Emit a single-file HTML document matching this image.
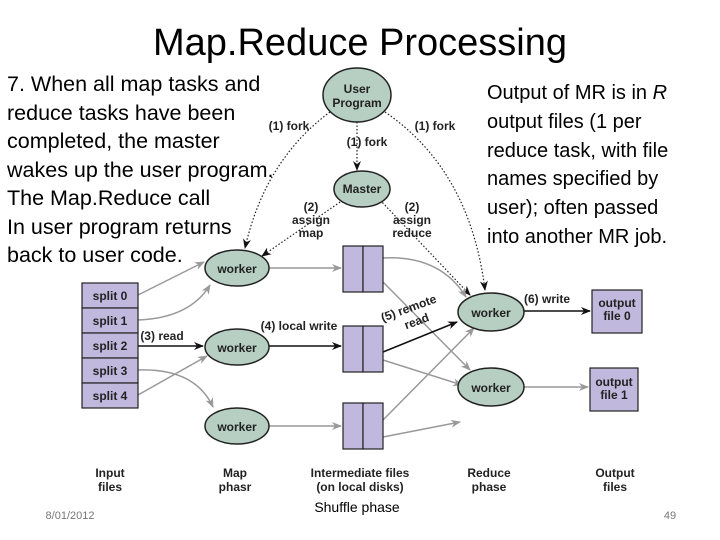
<!DOCTYPE html>
<html><head><meta charset="utf-8"><style>
body{margin:0;width:720px;height:540px;background:#fff;overflow:hidden;position:relative;font-family:"Liberation Sans",sans-serif}
.t{position:absolute;font-family:"Liberation Sans",sans-serif;color:#000}
</style></head><body>
<div class="t" style="left:0;width:720px;top:22px;text-align:center;font-size:38px">Map.Reduce Processing</div>
<div class="t" style="left:7px;top:70px;font-size:21.5px;line-height:28.5px;white-space:nowrap">7. When all map tasks and<br>reduce tasks have been<br>completed, the master<br>wakes up the user program.<br>The Map.Reduce call<br>In user program returns<br>back to user code.</div>
<div class="t" style="left:487px;top:79px;font-size:20px;line-height:28.8px;white-space:nowrap">Output of MR is in <i>R</i><br>output files (1 per<br>reduce task, with file<br>names specified by<br>user); often passed<br>into another MR job.</div>
<svg width="720" height="540" style="position:absolute;left:0;top:0" font-family="Liberation Sans Narrow, Liberation Sans, sans-serif">
<defs>
<marker id="g" markerWidth="10" markerHeight="8" refX="9" refY="4" orient="auto" markerUnits="userSpaceOnUse"><path d="M0,0L10,4L0,8L3,4z" fill="#999"/></marker>
<marker id="k" markerWidth="10" markerHeight="8" refX="9" refY="4" orient="auto" markerUnits="userSpaceOnUse"><path d="M0,0L10,4L0,8L3,4z" fill="#111"/></marker>
</defs>
<g fill="none" stroke="#222" stroke-width="1.2" stroke-dasharray="1.5,2">
<path d="M330,112 Q265,160 245,248" marker-end="url(#k)"/>
<path d="M357,122 L357,170" marker-end="url(#k)"/>
<path d="M385,112 Q470,170 485,290" marker-end="url(#k)"/>
<path d="M343,200 L262,256" marker-end="url(#k)"/>
<path d="M380,200 L470,295" marker-end="url(#k)"/>
</g>
<g fill="none" stroke="#999" stroke-width="1.5">
<path d="M138,295 L204,262" marker-end="url(#g)"/>
<path d="M138,320 Q190,318 210,285" marker-end="url(#g)"/>
<path d="M138,395 L207,356" marker-end="url(#g)"/>
<path d="M138,370 Q195,368 213,407" marker-end="url(#g)"/>
<path d="M269,268 L341,268" marker-end="url(#g)"/>
<path d="M269,426 L341,426" marker-end="url(#g)"/>
<path d="M383,258 Q440,255 466,297" marker-end="url(#g)"/>
<path d="M383,282 L470,370" marker-end="url(#g)"/>
<path d="M383,360 L462,385" marker-end="url(#g)"/>
<path d="M383,420 L474,328" marker-end="url(#g)"/>
<path d="M383,437 L460,422" marker-end="url(#g)"/>
<path d="M524,387 L588,387" marker-end="url(#g)"/>
</g>
<g fill="none" stroke="#111" stroke-width="1.5">
<path d="M138,346 L203,346" marker-end="url(#k)"/>
<path d="M269,346 L341,346" marker-end="url(#k)"/>
<path d="M383,352 L457,322" marker-end="url(#k)"/>
<path d="M524,311 L590,311" marker-end="url(#k)"/>
</g>
<g fill="#b7cfc3" stroke="#222" stroke-width="1.5">
<ellipse cx="357" cy="95" rx="34" ry="27"/>
<ellipse cx="362" cy="189" rx="28" ry="18"/>
<ellipse cx="237" cy="268" rx="32" ry="18"/>
<ellipse cx="237" cy="347" rx="32" ry="18"/>
<ellipse cx="237" cy="426" rx="32" ry="18"/>
<ellipse cx="491" cy="312" rx="33" ry="19"/>
<ellipse cx="491" cy="387" rx="33" ry="19"/>
</g>
<g fill="#c1b8dd" stroke="#222" stroke-width="1.2">
<rect x="82" y="283" width="56" height="25"/><rect x="82" y="308" width="56" height="25"/><rect x="82" y="333" width="56" height="25"/><rect x="82" y="358" width="56" height="25"/><rect x="82" y="383" width="56" height="25"/>
<rect x="343" y="246" width="20" height="46"/><rect x="363" y="246" width="20" height="46"/>
<rect x="343" y="326" width="20" height="46"/><rect x="363" y="326" width="20" height="46"/>
<rect x="343" y="403" width="20" height="46"/><rect x="363" y="403" width="20" height="46"/>
<rect x="592" y="290" width="50" height="43"/><rect x="590" y="368" width="48" height="43"/>
</g>
<g font-size="12" font-weight="bold" fill="#222" text-anchor="middle">
<text x="357" y="93">User</text><text x="357" y="107">Program</text>
<text x="362" y="193">Master</text>
<text x="237" y="273">worker</text><text x="237" y="352">worker</text><text x="237" y="431">worker</text>
<text x="491" y="317">worker</text><text x="491" y="392">worker</text>
<text x="110" y="300">split 0</text><text x="110" y="325">split 1</text><text x="110" y="350">split 2</text><text x="110" y="375">split 3</text><text x="110" y="400">split 4</text>
<text x="617" y="307">output</text><text x="617" y="320">file 0</text>
<text x="614" y="386">output</text><text x="614" y="399">file 1</text>
<text x="289" y="130">(1) fork</text><text x="367" y="146">(1) fork</text><text x="435" y="130">(1) fork</text>
<text x="311" y="211">(2)</text><text x="311" y="224">assign</text><text x="311" y="237">map</text>
<text x="412" y="211">(2)</text><text x="412" y="224">assign</text><text x="412" y="237">reduce</text>
<text x="162" y="340">(3) read</text><text x="299" y="330">(4) local write</text>
<text x="547" y="303">(6) write</text>
<text x="410" y="312" transform="rotate(-20 410 312)">(5) remote</text><text x="418" y="325" transform="rotate(-20 418 325)">read</text>
<text x="110" y="477">Input</text><text x="110" y="491">files</text>
<text x="235" y="477">Map</text><text x="235" y="491">phasr</text>
<text x="360" y="477">Intermediate files</text><text x="360" y="491">(on local disks)</text>
<text x="489" y="477">Reduce</text><text x="489" y="491">phase</text>
<text x="615" y="477">Output</text><text x="615" y="491">files</text>
</g>
<text x="357" y="512" font-size="14" text-anchor="middle" font-family="Liberation Sans, sans-serif">Shuffle phase</text>
<text x="70" y="519" font-size="11" fill="#777" text-anchor="middle" font-family="Liberation Sans, sans-serif">8/01/2012</text>
<text x="670" y="519" font-size="11" fill="#777" text-anchor="middle" font-family="Liberation Sans, sans-serif">49</text>
</svg>
</body></html>
